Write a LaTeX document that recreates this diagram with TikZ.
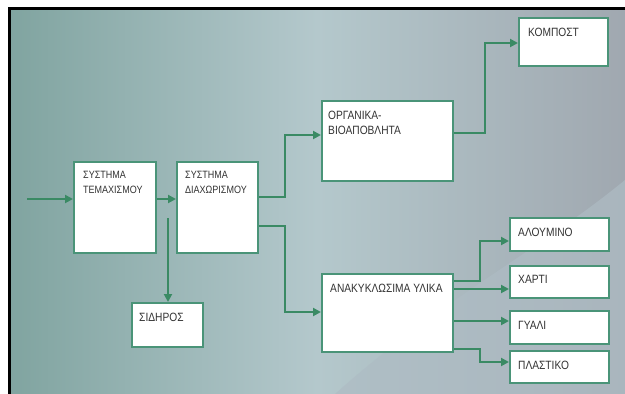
\documentclass[tikz,border=0pt]{standalone}
\usepackage{fontspec}
\newfontfamily\gfont[FakeStretch=0.85]{Liberation Sans}
\usetikzlibrary{arrows.meta,calc}
\definecolor{gline}{HTML}{3A8A64}
\definecolor{gbox}{HTML}{4A9478}
\definecolor{bgl}{HTML}{80A4A0}
\definecolor{bgm}{HTML}{B4C8CC}
\definecolor{bgr}{HTML}{A0A8B0}
\definecolor{bgc}{HTML}{AEBCC4}
\tikzset{
  blk/.style={draw=gbox, line width=2.2pt, fill=white, inner sep=0pt, anchor=north west},
  lbl/.style={font=\gfont\fontsize{12}{15}\selectfont, anchor=north west, inner sep=0pt, align=left, text=black!80},
  slbl/.style={lbl, font=\gfont\fontsize{10.6}{15}\selectfont},
  flow/.style={draw=gline, line width=2.6pt, -{Triangle[length=8pt,width=8pt]}},
}
\begin{document}
\begin{tikzpicture}[x=1pt,y=-1pt]
\useasboundingbox (0,0) rectangle (625,394);
% background
\fill[white] (0,0) rectangle (625,394);
\shade[left color=bgl, right color=bgr, middle color=bgm] (9,9) rectangle (625,394);
\fill[bgc, opacity=0.7] (335,394) .. controls (440,300) and (540,250) .. (625,180) -- (625,394) -- cycle;
\draw[black, line width=3pt] (8,8.5) -- (625,8.5);
\draw[black, line width=3pt] (9.5,7) -- (9.5,394);
% boxes
\node[blk, minimum width=82pt, minimum height=91pt] (tem) at (73,161) {};
\node[blk, minimum width=81pt, minimum height=91pt] (dia) at (176,161) {};
\node[blk, minimum width=71pt, minimum height=44pt] (sid) at (131,302) {};
\node[blk, minimum width=131pt, minimum height=80pt] (org) at (321,100) {};
\node[blk, minimum width=131pt, minimum height=78pt] (ana) at (321,273) {};
\node[blk, minimum width=89pt, minimum height=48pt] (kom) at (518,17) {};
\node[blk, minimum width=99pt, minimum height=33pt] (alu) at (509,217) {};
\node[blk, minimum width=99pt, minimum height=32pt] (xar) at (509,265) {};
\node[blk, minimum width=99pt, minimum height=33pt] (gya) at (509,310) {};
\node[blk, minimum width=99pt, minimum height=32pt] (pla) at (509,350) {};
% labels
\node[slbl] (temt) at (83,171) {ΣΥΣΤΗΜΑ\\ΤΕΜΑΧΙΣΜΟΥ};
\node[slbl] (diat) at (185,171) {ΣΥΣΤΗΜΑ\\ΔΙΑΧΩΡΙΣΜΟΥ};
\node[lbl] (sidt) at (139,313) {ΣΙΔΗΡΟΣ};
\node[lbl] (orgt) at (328,111) {ΟΡΓΑΝΙΚΑ-\\ΒΙΟΑΠΟΒΛΗΤΑ};
\node[lbl] (anat) at (330,284) {ΑΝΑΚΥΚΛΩΣΙΜΑ ΥΛΙΚΑ};
\node[lbl] (komt) at (528,28) {ΚΟΜΠΟΣΤ};
\node[lbl] (alut) at (518,228) {ΑΛΟΥΜΙΝΟ};
\node[lbl] (xart) at (518,275) {ΧΑΡΤΙ};
\node[lbl] (gyat) at (518,321) {ΓΥΑΛΙ};
\node[lbl] (plat) at (518,361) {ΠΛΑΣΤΙΚΟ};
% connector helper coordinates
\coordinate (src) at (27,199);
\coordinate (sidsrc) at (168,218);
\coordinate (d1) at (285,197);
\coordinate (d2) at (285,226);
\coordinate (o1) at (485,133);
\coordinate (k1) at (485,43);
\coordinate (org1) at (285,135);
\coordinate (ana1) at (285,312);
\coordinate (a1) at (480,281);
\coordinate (a2) at (480,241);
\coordinate (a3) at (480,289);
\coordinate (a4) at (480,321);
\coordinate (a5) at (480,349);
\coordinate (a6) at (480,362);
% connectors
\draw[flow] (src) -- (src -| tem.west);
\draw[flow] (tem.east |- src) -- (dia.west |- src);
\draw[flow] (sidsrc) -- (sidsrc |- sid.north);
\draw[flow] (dia.east |- d1) -- (d1) |- (org.west |- org1);
\draw[flow] (dia.east |- d2) -- (d2) |- (ana.west |- ana1);
\draw[flow] (org.east |- o1) -- (o1) |- (kom.west |- k1);
\draw[flow] (ana.east |- a1) -- (a1) |- (alu.west |- a2);
\draw[flow] (ana.east |- a3) -- (xar.west |- a3);
\draw[flow] (ana.east |- a4) -- (gya.west |- a4);
\draw[flow] (ana.east |- a5) -- (a5) |- (pla.west |- a6);
\end{tikzpicture}
\end{document}
